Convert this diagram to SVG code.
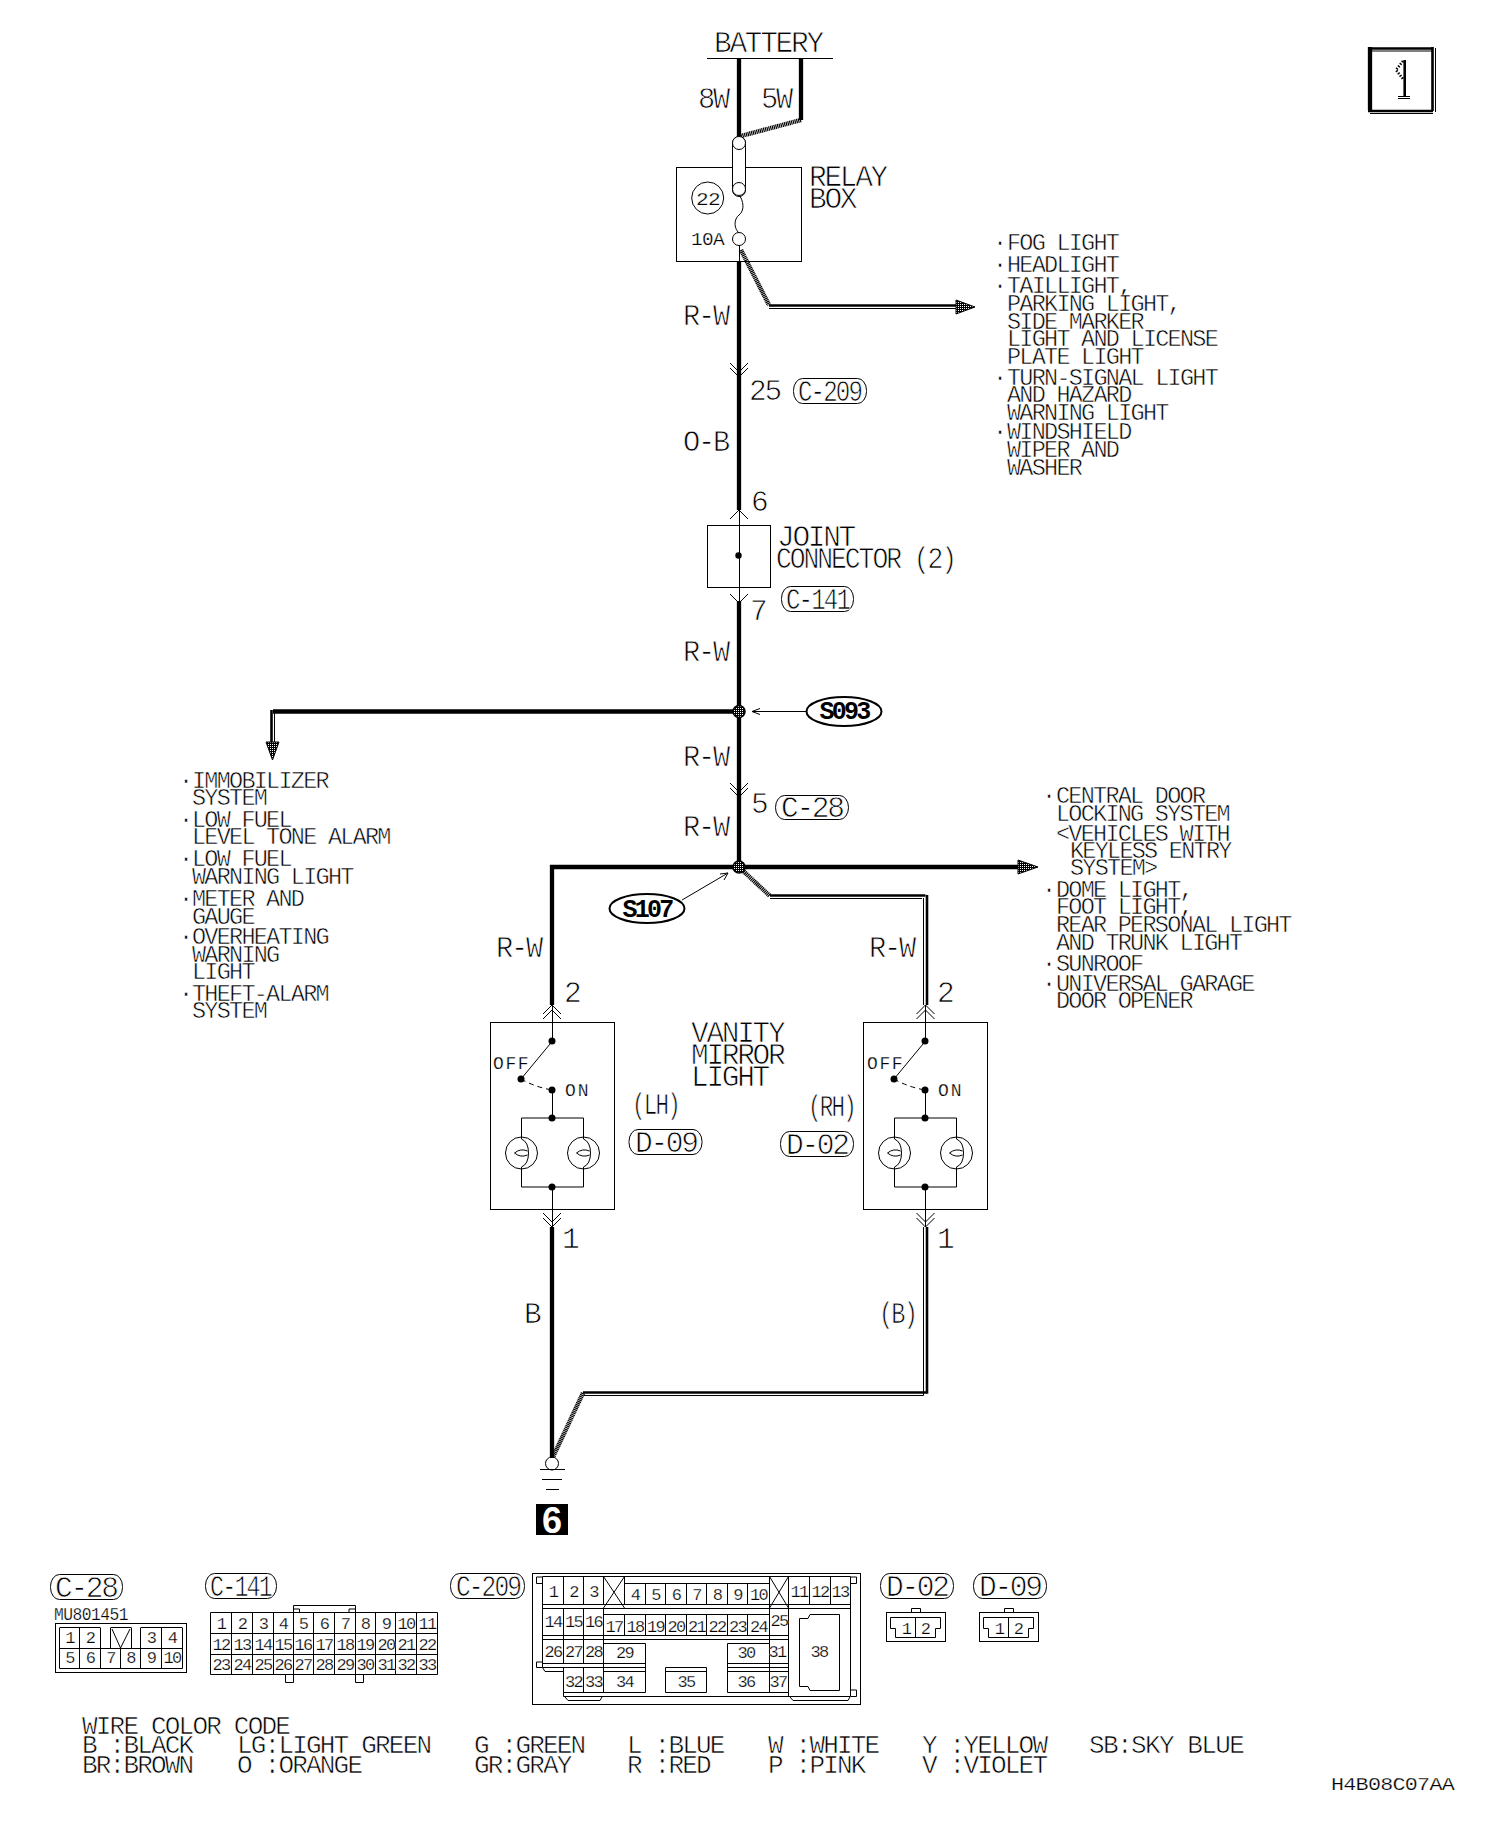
<svg xmlns="http://www.w3.org/2000/svg" xmlns:xlink="http://www.w3.org/1999/xlink" width="1504" height="1830" viewBox="0 0 1504 1830">
<style>
text{font-family:"Liberation Mono",monospace;fill:#000;white-space:pre}
.t{font-size:23.5px;letter-spacing:-1.75px;stroke:#fff;stroke-width:.55px}
.l{font-size:29.5px;letter-spacing:-2.3px;stroke:#fff;stroke-width:.75px}
.w{font-size:26px;letter-spacing:-1.8px;stroke:#fff;stroke-width:.6px}
.d{font-size:17px;letter-spacing:-1.6px;text-anchor:middle;stroke:#fff;stroke-width:.25px}
.s{font-size:18px;letter-spacing:-.6px;stroke:#fff;stroke-width:.25px}
.b{font-size:25px;letter-spacing:-2.7px;font-weight:bold;text-anchor:middle}
.ln{fill:none;stroke:#000;stroke-width:1}
.th{fill:none;stroke:#000;stroke-width:4.3}
.m{fill:none;stroke:#000;stroke-width:2.6}
.h{fill:none;stroke:#000;stroke-width:4.5;stroke-dasharray:1.2 .6}
.dash{fill:none;stroke:#000;stroke-width:1;stroke-dasharray:5 4}
.dot{fill:#000}
.jn{fill:url(#hatch);stroke:#000;stroke-width:1.5}
.ah{fill:url(#hatch);stroke:#000;stroke-width:1}
</style>
<defs>
<pattern id="hatch" width="2" height="2" patternUnits="userSpaceOnUse"><rect width="2" height="2" fill="#000"/><rect width="1" height="1" fill="#fff"/></pattern>
<path id="ch1d" class="ln" d="M-9-9L0 0 9-9"/>
<path id="ch2d" class="ln" d="M-9-14L0-5 9-14M-9-9L0 0 9-9"/>
<path id="ch1u" class="ln" d="M-9 9L0 0 9 9"/>
<path id="ch2u" class="ln" d="M-9 14L0 5 9 14M-9 9L0 0 9 9"/>
<g id="lamp"><circle class="ln" r="16"/><path class="ln" d="M0-35V-14Q7-11 7 0T0 14V34M-7 0Q-1-5 6-2M-7 0Q-1 5 6 2"/></g>
</defs>

<g id="connectors">
<path class="th" d="M739 58V136"/>
<path class="th" d="M801 58V120"/>
<path class="h" d="M801 120L741 136"/>
<path class="ln" d="M739.5 246V261"/>
<path class="th" d="M739 261V510"/>
<path class="h" d="M741 250L769 305"/>
<path class="m" d="M769 305.5H957"/><path class="ln" d="M769 308.5H957"/>
<polygon class="ah" points="956,300 975,307 956,314"/>
<path class="ln" d="M739.5 510V603"/>
<path class="th" d="M739 601V867"/>
<path class="th" d="M739 711.5H273"/>
<path class="m" d="M271.5 710V743"/><path class="ln" d="M274.5 713V743"/>
<polygon class="ah" points="266,742 279,742 272.5,760"/>
<use xlink:href="#ch2d" x="739" y="377"/>
<use xlink:href="#ch1u" x="739" y="510"/>
<use xlink:href="#ch1d" x="739" y="603"/>
<use xlink:href="#ch2d" x="739" y="797"/>
<circle class="jn" cx="739" cy="711.5" r="6"/>
<path class="ln" d="M806 711.5H752M760 708.5L752 711.5 760 714.5"/>
<path class="th" d="M552 1005V867H1018"/>
<polygon class="ah" points="1018,860 1038,867 1018,874"/>
<path class="h" d="M741 869L770 896"/>
<path class="m" d="M770 895.5H925.5"/><path class="ln" d="M770 898.5H922"/>
<path class="m" d="M927 895V1005"/><path class="ln" d="M923.5 898V1005"/>
<circle class="jn" cx="739" cy="867" r="6"/>
<path class="ln" d="M682 900L728 873M720 874L728 873 724 880"/>
<use xlink:href="#ch2u" x="552" y="1005"/>
<use xlink:href="#ch2u" x="925.5" y="1005"/>
<use xlink:href="#ch2d" x="552" y="1227"/>
<use xlink:href="#ch2d" x="925.5" y="1227"/>
<path class="th" d="M552 1227V1458"/>
<path class="m" d="M927 1227V1392.5H583"/><path class="ln" d="M923.5 1227V1395.5H584"/>
<path class="h" d="M583 1393L553 1457"/>
</g>

<g id="battery">
<text class="l" x="714" y="52">BATTERY</text>
<path class="ln" d="M707 58.5H833"/>
<text class="l" x="698" y="108" textLength="30" lengthAdjust="spacingAndGlyphs">8W</text>
<text class="l" x="761" y="108" textLength="30" lengthAdjust="spacingAndGlyphs">5W</text>
</g>

<g id="relay-box">
<rect class="ln" x="676.5" y="167.5" width="125" height="94"/>
<rect fill="#fff" stroke="#000" x="732.5" y="136.5" width="13" height="60" rx="6.5"/>
<circle cx="739" cy="143" r="6.5" fill="#fff" stroke="#000"/>
<circle cx="739" cy="189" r="6.5" fill="#fff" stroke="#000"/>
<circle cx="739" cy="239" r="6.5" fill="#fff" stroke="#000"/>
<path class="ln" d="M740 196C745 205 743 212 739 215S733 226 738 232"/>
<circle class="ln" cx="707.7" cy="198" r="16"/>
<text class="s" x="696" y="205" textLength="24" lengthAdjust="spacingAndGlyphs">22</text>
<text class="s" x="691" y="245" textLength="33" lengthAdjust="spacingAndGlyphs">10A</text>
<text class="l" x="809" y="186">RELAY</text>
<text class="l" x="809" y="208">BOX</text>
</g>

<g id="labels">
<text class="l" x="683" y="325" textLength="45" lengthAdjust="spacingAndGlyphs">R-W</text>
<text class="l" x="749" y="400">25</text>
<rect class="ln" x="793.5" y="378.5" width="73" height="25" rx="9" ry="12"/>
<text class="l" x="798" y="401" textLength="63" lengthAdjust="spacingAndGlyphs">C-209</text>
<text class="l" x="683" y="451" textLength="45" lengthAdjust="spacingAndGlyphs">O-B</text>
<text class="l" x="751" y="511">6</text>
<text class="l" x="750" y="620">7</text>
<rect class="ln" x="781.5" y="586.5" width="72" height="25" rx="9" ry="12"/>
<text class="l" x="786" y="609" textLength="63" lengthAdjust="spacingAndGlyphs">C-141</text>
<text class="l" x="683" y="661" textLength="45" lengthAdjust="spacingAndGlyphs">R-W</text>
<text class="l" x="683" y="766" textLength="45" lengthAdjust="spacingAndGlyphs">R-W</text>
<text class="l" x="751" y="813">5</text>
<rect class="ln" x="775.5" y="795.5" width="73" height="24" rx="9" ry="12"/>
<text class="l" x="781" y="817">C-28</text>
<text class="l" x="683" y="836" textLength="45" lengthAdjust="spacingAndGlyphs">R-W</text>
<text class="l" x="496" y="957" textLength="45" lengthAdjust="spacingAndGlyphs">R-W</text>
<text class="l" x="869" y="957" textLength="45" lengthAdjust="spacingAndGlyphs">R-W</text>
<text class="l" x="564" y="1002">2</text>
<text class="l" x="937" y="1002">2</text>
<text class="l" x="562" y="1248">1</text>
<text class="l" x="937" y="1248">1</text>
<text class="l" x="524" y="1323">B</text>
<text class="l" x="879" y="1323" textLength="37" lengthAdjust="spacingAndGlyphs">(B)</text>
</g>

<g id="list-right-top">
<text class="t" x="993" y="250">·<tspan x="1007">FOG LIGHT</tspan></text>
<text class="t" x="993" y="272">·<tspan x="1007">HEADLIGHT</tspan></text>
<text class="t" x="993" y="293">·<tspan x="1007">TAILLIGHT,</tspan></text>
<text class="t" x="1007" y="311">PARKING LIGHT,</text>
<text class="t" x="1007" y="329">SIDE MARKER</text>
<text class="t" x="1007" y="346">LIGHT AND LICENSE</text>
<text class="t" x="1007" y="364">PLATE LIGHT</text>
<text class="t" x="993" y="385">·<tspan x="1007">TURN-SIGNAL LIGHT</tspan></text>
<text class="t" x="1007" y="402">AND HAZARD</text>
<text class="t" x="1007" y="420">WARNING LIGHT</text>
<text class="t" x="993" y="439">·<tspan x="1007">WINDSHIELD</tspan></text>
<text class="t" x="1007" y="457">WIPER AND</text>
<text class="t" x="1007" y="475">WASHER</text>
</g>

<g id="joint-connector">
<rect class="ln" x="707.5" y="525.5" width="63" height="62"/>
<circle class="dot" cx="738.5" cy="555.5" r="3.2"/>
<text class="l" x="777" y="546">JOINT</text>
<text class="l" x="776" y="568" textLength="179" lengthAdjust="spacingAndGlyphs">CONNECTOR (2)</text>
</g>

<g id="S093">
<ellipse cx="844" cy="711.5" rx="37.5" ry="14.5" fill="none" stroke="#000" stroke-width="2"/>
<text class="b" x="844" y="719">S093</text>
</g>
<g id="S107">
<ellipse cx="647" cy="908.5" rx="37.5" ry="14.5" fill="none" stroke="#000" stroke-width="2"/>
<text class="b" x="647" y="917">S107</text>
</g>

<g id="list-left">
<text class="t" x="179" y="788">·<tspan x="192">IMMOBILIZER</tspan></text>
<text class="t" x="192" y="805">SYSTEM</text>
<text class="t" x="179" y="827">·<tspan x="192">LOW FUEL</tspan></text>
<text class="t" x="192" y="844">LEVEL TONE ALARM</text>
<text class="t" x="179" y="866">·<tspan x="192">LOW FUEL</tspan></text>
<text class="t" x="192" y="884">WARNING LIGHT</text>
<text class="t" x="179" y="906">·<tspan x="192">METER AND</tspan></text>
<text class="t" x="192" y="924">GAUGE</text>
<text class="t" x="179" y="944">·<tspan x="192">OVERHEATING</tspan></text>
<text class="t" x="192" y="962">WARNING</text>
<text class="t" x="192" y="979">LIGHT</text>
<text class="t" x="179" y="1001">·<tspan x="192">THEFT-ALARM</tspan></text>
<text class="t" x="192" y="1018">SYSTEM</text>
</g>

<g id="list-right-mid">
<text class="t" x="1042" y="803">·<tspan x="1056">CENTRAL DOOR</tspan></text>
<text class="t" x="1056" y="821">LOCKING SYSTEM</text>
<text class="t" x="1056" y="841">&lt;VEHICLES WITH</text>
<text class="t" x="1070" y="858">KEYLESS ENTRY</text>
<text class="t" x="1070" y="875">SYSTEM&gt;</text>
<text class="t" x="1042" y="897">·<tspan x="1056">DOME LIGHT,</tspan></text>
<text class="t" x="1056" y="914">FOOT LIGHT,</text>
<text class="t" x="1056" y="932">REAR PERSONAL LIGHT</text>
<text class="t" x="1056" y="950">AND TRUNK LIGHT</text>
<text class="t" x="1042" y="971">·<tspan x="1056">SUNROOF</tspan></text>
<text class="t" x="1042" y="991">·<tspan x="1056">UNIVERSAL GARAGE</tspan></text>
<text class="t" x="1056" y="1008">DOOR OPENER</text>
</g>

<g id="mirror-lh">
<rect class="ln" x="490.5" y="1022.5" width="124" height="187"/>
<path class="ln" d="M552.5 1005V1041L521 1079"/>
<path class="dash" d="M521 1079Q535 1087 552 1090"/>
<path class="ln" d="M552.5 1090V1118M552.5 1187V1227M521.5 1118H583.5M521.5 1187H583.5"/>
<circle class="dot" cx="552" cy="1041" r="3.5"/><circle class="dot" cx="521" cy="1079" r="3.5"/><circle class="dot" cx="552" cy="1090" r="3.5"/><circle class="dot" cx="552" cy="1118" r="3.5"/><circle class="dot" cx="552" cy="1187" r="3.5"/>
<use xlink:href="#lamp" x="521.5" y="1153"/><use xlink:href="#lamp" x="583.5" y="1153"/>
<text class="s" x="493" y="1069" textLength="35" lengthAdjust="spacing">OFF</text>
<text class="s" x="565" y="1096" textLength="23" lengthAdjust="spacing">ON</text>
<text class="l" x="632" y="1114" textLength="47" lengthAdjust="spacingAndGlyphs">(LH)</text>
<rect class="ln" x="629" y="1129.5" width="73" height="25" rx="9" ry="12"/>
<text class="l" x="635" y="1152">D-09</text>
</g>

<g id="vanity-title">
<text class="l" x="691" y="1042">VANITY</text>
<text class="l" x="691" y="1064">MIRROR</text>
<text class="l" x="691" y="1086">LIGHT</text>
</g>

<g id="mirror-rh">
<rect class="ln" x="863.5" y="1022.5" width="124" height="187"/>
<path class="ln" d="M925.5 1005V1041L894 1079"/>
<path class="dash" d="M894 1079Q908 1087 925 1090"/>
<path class="ln" d="M925.5 1090V1118M925.5 1187V1227M894.5 1118H956.5M894.5 1187H956.5"/>
<circle class="dot" cx="925" cy="1041" r="3.5"/><circle class="dot" cx="894" cy="1079" r="3.5"/><circle class="dot" cx="925" cy="1090" r="3.5"/><circle class="dot" cx="925" cy="1118" r="3.5"/><circle class="dot" cx="925" cy="1187" r="3.5"/>
<use xlink:href="#lamp" x="894.5" y="1153"/><use xlink:href="#lamp" x="956.5" y="1153"/>
<text class="s" x="867" y="1069" textLength="35" lengthAdjust="spacing">OFF</text>
<text class="s" x="938" y="1096" textLength="23" lengthAdjust="spacing">ON</text>
<text class="l" x="808" y="1116" textLength="47" lengthAdjust="spacingAndGlyphs">(RH)</text>
<rect class="ln" x="780.5" y="1131.5" width="73" height="25" rx="9" ry="12"/>
<text class="l" x="786" y="1154">D-02</text>
</g>

<g id="ground">
<circle class="ln" cx="552" cy="1463.5" r="6.5"/>
<path class="ln" d="M540 1469.5H565M542 1479.5H562M546 1489.5H559"/>
<rect x="536" y="1504" width="32" height="31" fill="#000"/>
<text x="552" y="1533" text-anchor="middle" style="font-family:'Liberation Sans',sans-serif;font-weight:bold;font-size:36px;fill:#fff">6</text>
</g>

<g id="page-tag">
<path class="th" d="M1370 47V110"/>
<path class="m" d="M1368 48.5H1433M1432.5 47V111M1368 111H1433"/>
<path class="ln" d="M1372 51H1432M1435.5 48V112M1370 113.5H1433"/>
<path class="m" d="M1404.7 60V96"/>
<path class="ln" d="M1398 96.5H1410M1398 98.5H1410"/>
<path class="m" d="M1403 61L1396 70 1403 79" stroke-dasharray="1.5 1.5"/>
</g>

<g id="conn-C-28">
<rect class="ln" x="50.5" y="1574.5" width="72" height="25" rx="9" ry="12"/>
<text class="l" x="55" y="1597">C-28</text>
<text class="s" x="54" y="1620" textLength="74" lengthAdjust="spacingAndGlyphs">MU801451</text>
<rect class="ln" x="55.5" y="1623.5" width="131" height="49"/>
<path class="ln" d="M59.5 1628V1668.5H182.5V1628M59.5 1627.5H100.5M110.5 1627.5H131.5M140.5 1627.5H182.5M59.5 1648.5H182.5M79.5 1628V1668M100.5 1628V1668M120.5 1649V1668M140.5 1628V1668M161.5 1628V1668M110.5 1628V1648M131.5 1628V1648M112 1629L120.5 1648 130 1629"/>
<text class="d" x="69.5" y="1643">1</text><text class="d" x="90" y="1643">2</text><text class="d" x="151" y="1643">3</text><text class="d" x="172" y="1643">4</text>
<text class="d" x="69.5" y="1663">5</text><text class="d" x="90" y="1663">6</text><text class="d" x="110.5" y="1663">7</text><text class="d" x="130.5" y="1663">8</text><text class="d" x="151" y="1663">9</text><text class="d" x="172" y="1663">10</text>
</g>

<g id="conn-C-141">
<rect class="ln" x="205.5" y="1573.5" width="71" height="25" rx="9" ry="12"/>
<text class="l" x="210" y="1596" textLength="61" lengthAdjust="spacingAndGlyphs">C-141</text>
<path class="ln" d="M210.5 1612.5H437.5M210.5 1633.5H437.5M210.5 1654.5H437.5M210.5 1674.5H437.5M210.5 1612.5V1674.5M231.5 1612.5V1674.5M252.5 1612.5V1674.5M273.5 1612.5V1674.5M293.5 1612.5V1674.5M313.5 1612.5V1674.5M334.5 1612.5V1674.5M355.5 1612.5V1674.5M375.5 1612.5V1674.5M395.5 1612.5V1674.5M416.5 1612.5V1674.5M437.5 1612.5V1674.5"/>
<path class="ln" d="M293.5 1612V1605.5H355.5V1612M293.5 1609H299.5V1612M355.5 1609H349V1612M285.5 1675V1682.5H293.5V1675M355.5 1675V1682.5H363.5V1675"/>
<text class="d" x="221" y="1629">1</text><text class="d" x="242" y="1629">2</text><text class="d" x="263" y="1629">3</text><text class="d" x="283" y="1629">4</text><text class="d" x="303" y="1629">5</text><text class="d" x="324" y="1629">6</text><text class="d" x="345" y="1629">7</text><text class="d" x="365" y="1629">8</text><text class="d" x="386" y="1629">9</text><text class="d" x="406" y="1629">10</text><text class="d" x="427" y="1629">11</text>
<text class="d" x="221" y="1649.5">12</text><text class="d" x="242" y="1649.5">13</text><text class="d" x="263" y="1649.5">14</text><text class="d" x="283" y="1649.5">15</text><text class="d" x="303" y="1649.5">16</text><text class="d" x="324" y="1649.5">17</text><text class="d" x="345" y="1649.5">18</text><text class="d" x="365" y="1649.5">19</text><text class="d" x="386" y="1649.5">20</text><text class="d" x="406" y="1649.5">21</text><text class="d" x="427" y="1649.5">22</text>
<text class="d" x="221" y="1670">23</text><text class="d" x="242" y="1670">24</text><text class="d" x="263" y="1670">25</text><text class="d" x="283" y="1670">26</text><text class="d" x="303" y="1670">27</text><text class="d" x="324" y="1670">28</text><text class="d" x="345" y="1670">29</text><text class="d" x="365" y="1670">30</text><text class="d" x="386" y="1670">31</text><text class="d" x="406" y="1670">32</text><text class="d" x="427" y="1670">33</text>
</g>

<g id="conn-C-209">
<rect class="ln" x="450.5" y="1573.5" width="74" height="25" rx="9" ry="12"/>
<text class="l" x="456" y="1596" textLength="64" lengthAdjust="spacingAndGlyphs">C-209</text>
<rect class="ln" x="532.5" y="1573.5" width="328" height="131"/>
<path class="ln" d="M542.5 1576.5H850.5M624.5 1583.5H769.5M542.5 1576.5V1667.5M563.5 1576.5V1604.5M583.5 1576.5V1604.5M603.5 1576.5V1604.5M624.5 1576.5V1604.5M645.5 1583.5V1604.5M665.5 1583.5V1604.5M686.5 1583.5V1604.5M706.5 1583.5V1604.5M727.5 1583.5V1604.5M747.5 1583.5V1604.5M769.5 1576.5V1639.5M788.5 1576.5V1696.5M809.5 1576.5V1604.5M830.5 1576.5V1604.5M850.5 1576.5V1696.5"/>
<path class="ln" d="M603.5 1576.5L624.5 1608M624.5 1576.5L603.5 1608M769.5 1576.5L788.5 1608M788.5 1576.5L769.5 1608"/>
<path class="ln" d="M542.5 1604.5H850.5M542.5 1608.5H850.5M603.5 1614.5H769.5M542.5 1635.5H788.5M542.5 1639.5H788.5"/>
<path class="ln" d="M563.5 1608.5V1663.5M583.5 1608.5V1663.5M603.5 1608.5V1692.5M624.5 1614.5V1635.5M645.5 1614.5V1635.5M665.5 1614.5V1635.5M686.5 1614.5V1635.5M706.5 1614.5V1635.5M727.5 1614.5V1635.5M747.5 1614.5V1635.5"/>
<path class="ln" d="M603.5 1643.5H645.5M727.5 1643.5H769.5M645.5 1643.5V1692.5M727.5 1643.5V1692.5M769.5 1643.5V1692.5M769.5 1639.5V1643.5"/>
<path class="ln" d="M542.5 1663.5H645.5M542.5 1667.5H645.5M727.5 1663.5H788.5M727.5 1667.5H788.5M603.5 1671.5H645.5M727.5 1671.5H788.5"/>
<path class="ln" d="M563.5 1667.5V1696.5M583.5 1667.5V1692.5M665.5 1667.5V1692.5M706.5 1667.5V1692.5M665.5 1667.5H706.5M665.5 1671.5H706.5"/>
<path class="ln" d="M563.5 1692.5H645.5M665.5 1692.5H706.5M727.5 1692.5H788.5M563.5 1696.5H850.5"/>
<path class="ln" d="M542.5 1667.5L545 1671.5H563M565 1697L568 1700.5H600L602 1697M790 1697L793 1700.5H848L850 1697"/>
<path class="ln" d="M542 1577H536.5V1583.5H542M542 1662H536.5V1667.5H542M851 1577H856.5V1583.5H851M851 1690H856.5V1696.5H851"/>
<path class="ln" d="M799.5 1618.5H808L810 1614.5H839.5V1690.5H810L808 1686.5H799.5Z"/>
<text class="d" x="553" y="1597">1</text><text class="d" x="573.5" y="1597">2</text><text class="d" x="593.5" y="1597">3</text>
<text class="d" x="635" y="1600">4</text><text class="d" x="655.5" y="1600">5</text><text class="d" x="676" y="1600">6</text><text class="d" x="696.5" y="1600">7</text><text class="d" x="717" y="1600">8</text><text class="d" x="737.5" y="1600">9</text><text class="d" x="758.5" y="1600">10</text>
<text class="d" x="799" y="1597">11</text><text class="d" x="820" y="1597">12</text><text class="d" x="840" y="1597">13</text>
<text class="d" x="553" y="1627">14</text><text class="d" x="573.5" y="1627">15</text><text class="d" x="593.5" y="1627">16</text>
<text class="d" x="614" y="1632">17</text><text class="d" x="635" y="1632">18</text><text class="d" x="655.5" y="1632">19</text><text class="d" x="676" y="1632">20</text><text class="d" x="696.5" y="1632">21</text><text class="d" x="717" y="1632">22</text><text class="d" x="737.5" y="1632">23</text><text class="d" x="758.5" y="1632">24</text>
<text class="d" x="779" y="1626">25</text>
<text class="d" x="553" y="1657">26</text><text class="d" x="573.5" y="1657">27</text><text class="d" x="593.5" y="1657">28</text>
<text class="d" x="624.5" y="1658">29</text><text class="d" x="746" y="1658">30</text><text class="d" x="777" y="1657">31</text>
<text class="d" x="573.5" y="1687">32</text><text class="d" x="593.5" y="1687">33</text><text class="d" x="624.5" y="1687">34</text><text class="d" x="686" y="1687">35</text><text class="d" x="746" y="1687">36</text><text class="d" x="778" y="1687">37</text>
<text class="d" x="819" y="1657">38</text>
</g>

<g id="conn-D-02">
<rect class="ln" x="880.5" y="1573.5" width="73" height="25" rx="9" ry="12"/>
<text class="l" x="886" y="1596">D-02</text>
<rect class="ln" x="886.5" y="1612.5" width="59" height="29"/>
<path class="ln" d="M911.5 1612V1608.5H920.5V1612M890.5 1617.5H940.5V1628.5H935.5V1637.5H895.5V1628.5H890.5ZM915.5 1617.5V1637.5"/>
<text class="d" x="906" y="1634">1</text><text class="d" x="925" y="1634">2</text>
</g>
<g id="conn-D-09">
<rect class="ln" x="973.5" y="1573.5" width="73" height="25" rx="9" ry="12"/>
<text class="l" x="979" y="1596">D-09</text>
<rect class="ln" x="979.5" y="1612.5" width="59" height="29"/>
<path class="ln" d="M1004.5 1612V1608.5H1013.5V1612M983.5 1617.5H1033.5V1628.5H1028.5V1637.5H988.5V1628.5H983.5ZM1008.5 1617.5V1637.5"/>
<text class="d" x="999" y="1634">1</text><text class="d" x="1018" y="1634">2</text>
</g>

<g id="legend">
<text class="w" x="82" y="1734">WIRE COLOR CODE</text>
<text class="w" x="82" y="1753">B :BLACK</text>
<text class="w" x="82" y="1773">BR:BROWN</text>
<text class="w" x="237" y="1753">LG:LIGHT GREEN</text>
<text class="w" x="237" y="1773">O :ORANGE</text>
<text class="w" x="474" y="1753">G :GREEN</text>
<text class="w" x="474" y="1773">GR:GRAY</text>
<text class="w" x="627" y="1753">L :BLUE</text>
<text class="w" x="627" y="1773">R :RED</text>
<text class="w" x="768" y="1753">W :WHITE</text>
<text class="w" x="768" y="1773">P :PINK</text>
<text class="w" x="922" y="1753">Y :YELLOW</text>
<text class="w" x="922" y="1773">V :VIOLET</text>
<text class="w" x="1089" y="1753" textLength="154">SB:SKY BLUE</text>
<text class="s" x="1331" y="1790" textLength="123" lengthAdjust="spacingAndGlyphs">H4B08C07AA</text>
</g>
</svg>
